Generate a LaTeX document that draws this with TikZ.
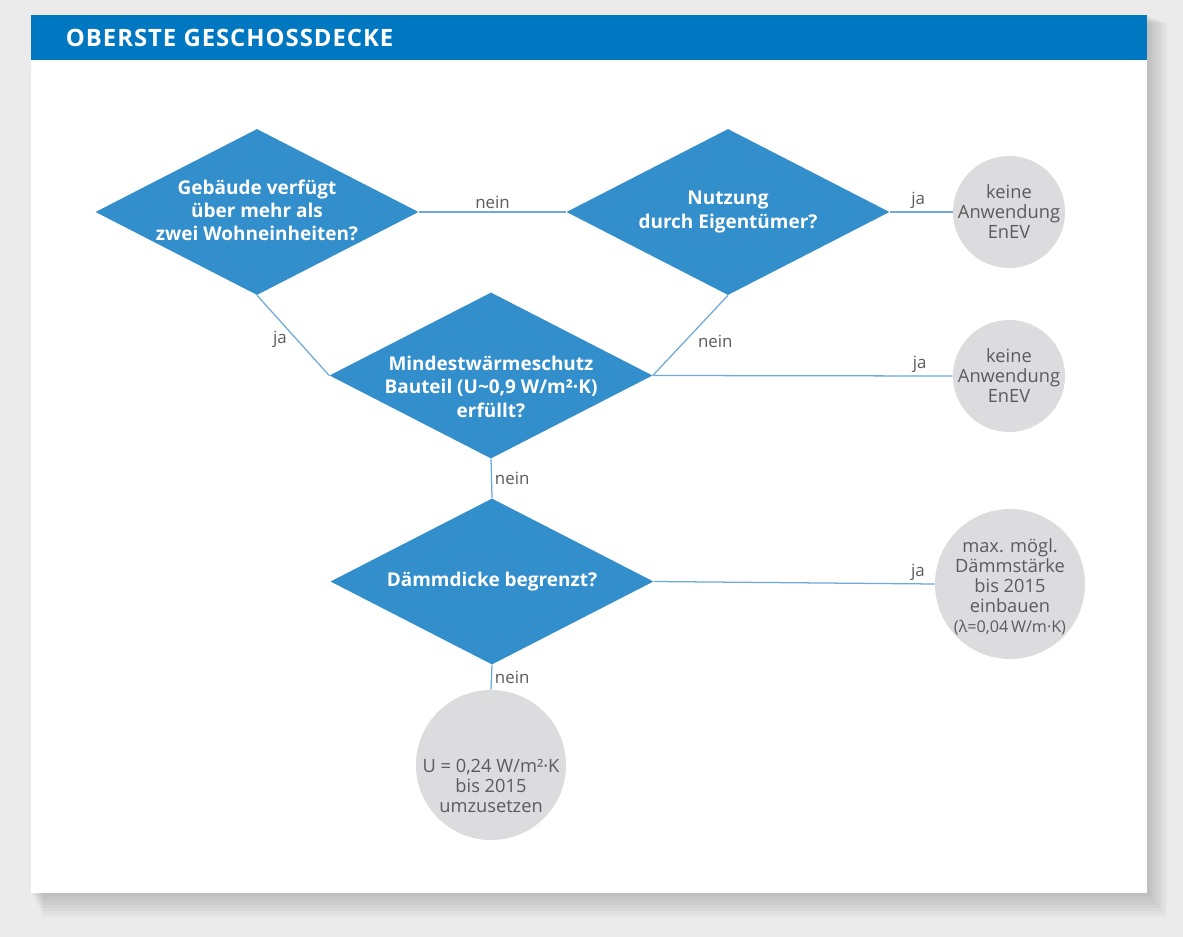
\documentclass[tikz,border=0pt]{standalone}
\usepackage{fontspec}
\setmainfont{Open Sans}
\newfontfamily\titelfont[LetterSpace=4]{Open Sans}
\usetikzlibrary{shapes.geometric}
\definecolor{headblue}{HTML}{0077C1}
\definecolor{diablue}{HTML}{338ECC}
\definecolor{lineblue}{HTML}{6FAADB}
\definecolor{circgray}{HTML}{DCDCDE}
\definecolor{txtgray}{HTML}{5A5B5D}
\definecolor{pagegray}{HTML}{EBEBEB}

\begin{document}
\begin{tikzpicture}[x=0.025cm, y=-0.025cm,
    frage/.style={diamond, fill=diablue, minimum width=8.075cm, minimum height=4.15cm, inner sep=0pt},
    fragetext/.style={text=white, font=\fontsize{13.5}{16.5}\selectfont\bfseries, align=center},
    ziel/.style={circle, fill=circgray, inner sep=0pt},
    zieltext/.style={text=txtgray, font=\fontsize{13}{14.2}\selectfont, align=center},
    pfad/.style={draw=lineblue, line width=0.9pt},
    antwort/.style={text=txtgray, font=\fontsize{12}{14}\selectfont, inner sep=2pt}]
    \useasboundingbox[fill=pagegray] (0,0) rectangle (1183,937);
    % panel with shadow
    \foreach \s in {1,...,8}
        \fill[black, opacity=0.022] ({31+\s*1.5},{15+\s}) rectangle ({1147+\s*2.5},{893+\s*3});
    \fill[white] (31,15) rectangle (1147,893);
    \fill[headblue] (31,15) rectangle (1147,60);
    \node[anchor=west, text=white, font=\fontsize{17}{20}\selectfont\titelfont\bfseries] (titel) at (61,38) {OBERSTE GESCHOSSDECKE};

    % questions
    \node[frage] (d1) at (257,212) {};
    \node[fragetext, yshift=1pt] (d1t) at (d1) {Gebäude verfügt\\über mehr als\\zwei Wohneinheiten?};
    \node[frage] (d2) at (728,212) {};
    \node[fragetext] (d2t) at (d2) {Nutzung\\durch Eigentümer?};
    \node[frage] (d3) at (491,375.5) {};
    \node[fragetext, yshift=-8pt] (d3t) at (d3) {Mindestwärmeschutz\\Bauteil (U\textasciitilde0,9 W/m²·K)\\erfüllt?};
    \node[frage] (d4) at (492,581.5) {};
    \node[fragetext] (d4t) at (d4) {Dämmdicke begrenzt?};

    % results
    \node[ziel, minimum size=2.8cm] (c1) at (1009,212) {};
    \node[zieltext] (c1t) at (c1) {keine\\Anwendung\\EnEV};
    \node[ziel, minimum size=2.8cm] (c2) at (1009,376) {};
    \node[zieltext] (c2t) at (c2) {keine\\Anwendung\\EnEV};
    \node[ziel, minimum size=3.75cm] (c3) at (1010,584) {};
    \node[zieltext, yshift=-2pt] (c3t) at (c3) {max. mögl.\\Dämmstärke\\bis 2015\\einbauen\\{\fontsize{11.5}{14.2}\selectfont(λ=0,04\,W/m·K)}};
    \node[ziel, minimum size=3.75cm] (c4) at (491,765) {};
    \node[zieltext, yshift=-15pt] (c4t) at (c4) {U = 0,24 W/m²·K\\bis 2015\\umzusetzen};

    % connectors
    \draw[pfad] (d1.east) to node[antwort, above] {nein} (d2.west);
    \draw[pfad] (d2.east) to node[antwort, above, pos=0.45] {ja} (c1.west);
    \draw[pfad] (d1.south) to node[antwort, left, pos=0.5, xshift=-2pt, yshift=-3pt] {ja} (d3.west);
    \draw[pfad] (d2.south) to node[antwort, right, pos=0.5, xshift=3pt, yshift=-4pt] {nein} (d3.east);
    \draw[pfad] (d3.east) to node[antwort, above, pos=0.89] {ja} (c2.west);
    \draw[pfad] (d3.south) to node[antwort, right] {nein} (d4.north);
    \draw[pfad] (d4.east) to node[antwort, above, pos=0.94] {ja} (c3.west);
    \draw[pfad] (d4.south) to node[antwort, right] {nein} (c4.north);
\end{tikzpicture}
\end{document}
